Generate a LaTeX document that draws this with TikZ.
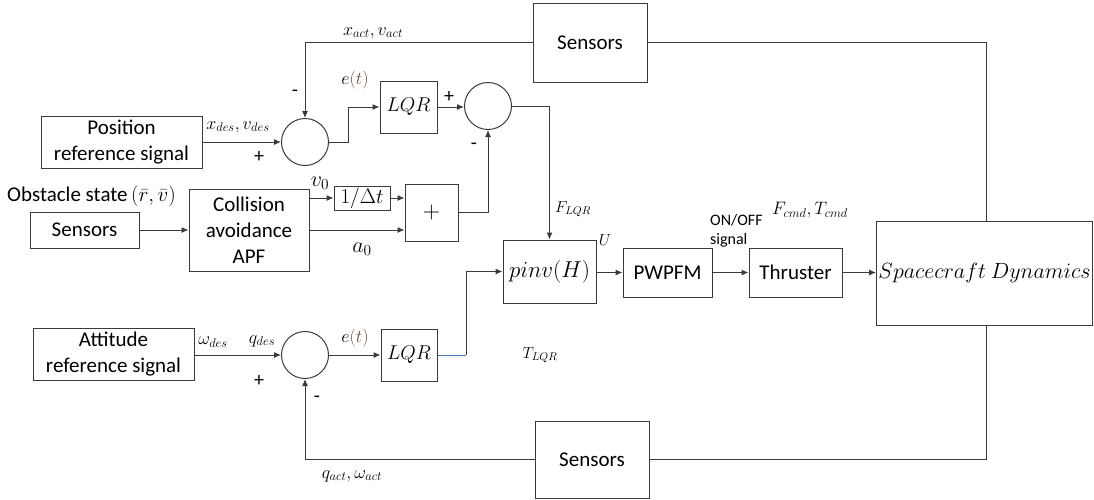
\RequirePackage{fix-cm}
\documentclass[tikz,border=0pt]{standalone}
\usepackage{fontspec}
\setmainfont{Carlito}
\usetikzlibrary{arrows.meta,calc}
\definecolor{linec}{HTML}{3A3A3A}
\definecolor{etbrown}{RGB}{125,70,60}
\definecolor{bluel}{HTML}{4472C4}
\tikzset{
  blk/.style={draw=linec, line width=1pt, inner sep=0pt, align=center, font=\fontsize{21}{26}\selectfont},
  sumc/.style={draw=linec, line width=1pt, circle, inner sep=0pt, minimum size=47pt},
  conn/.style={draw=linec, line width=1pt},
  arr/.style={conn, -{Latex[length=7pt,width=6pt]}},
  lbl/.style={inner sep=0pt, font=\fontsize{18}{20}\selectfont},
  sgn/.style={inner sep=0pt, font=\fontsize{20}{22}\selectfont},
}
\begin{document}
\begin{tikzpicture}[x=1pt,y=-1pt]
\useasboundingbox (0,0) rectangle (1094,499);
% blocks
\node[blk, minimum width=161pt, minimum height=52pt] (posref) at (121.5,142) {Position\\reference signal};
\node[sumc] (sum1) at (305,142) {};
\node[blk, minimum width=57pt, minimum height=52pt, font=\fontsize{20}{22}\selectfont] (lqr1) at (408.5,107) {$LQR$};
\node[sumc] (sum2) at (488,106) {};
\node[blk, minimum width=114pt, minimum height=79pt] (sensT) at (590,42.5) {Sensors};
\node[inner sep=0pt, anchor=west, font=\fontsize{21}{24}\selectfont] (obst) at (7,196) {Obstacle state\,$(\bar{r},\bar{v})$};
\node[blk, minimum width=109pt, minimum height=36pt] (sensL) at (84.5,230) {Sensors};
\node[blk, minimum width=120pt, minimum height=82pt] (ca) at (249,230) {Collision\\avoidance\\APF};
\node[blk, minimum width=56pt, minimum height=24pt, font=\fontsize{21}{22}\selectfont] (dt) at (362,198) {$1/\Delta t$};
\node[blk, minimum width=53pt, minimum height=57pt, font=\fontsize{24}{26}\selectfont] (plus) at (431.5,212.5) {$+$};
\node[blk, minimum width=93pt, minimum height=63pt, font=\fontsize{23}{25}\selectfont] (pinv) at (549.5,271.5) {$pinv(H)$};
\node[blk, minimum width=89pt, minimum height=49pt] (pwpfm) at (667.5,272.5) {PWPFM};
\node[blk, minimum width=93pt, minimum height=49pt] (thr) at (795.5,272.5) {Thruster};
\node[blk, minimum width=216pt, minimum height=104pt, font=\fontsize{22}{24}\selectfont] (sd) at (984.5,273) {$Spacecraft\ Dynamics$};
\node[blk, minimum width=161pt, minimum height=52pt] (attref) at (113.5,354) {Attitude\\reference signal};
\node[sumc] (sum3) at (305,355) {};
\node[blk, minimum width=56pt, minimum height=52pt, font=\fontsize{20}{22}\selectfont] (lqr2) at (409,355) {$LQR$};
\node[blk, minimum width=114pt, minimum height=77pt] (sensB) at (592,459.5) {Sensors};
\coordinate (fbx) at (986,0);
\coordinate (c1) at (466,355);
% connectors
\draw[arr] (posref.east) -- (sum1.west);
\draw[arr] (sensT.west) -| (sum1.north);
\draw[conn] (sensT.east) -| (sd.north -| fbx);
\draw[conn] (sd.south -| fbx) |- (sensB.east);
\draw[arr] (sensB.west) -| (sum3.south);
\draw[arr] (sum1.east) -- ++(19,0) |- (lqr1.west);
\draw[arr] (lqr1.east) -- (lqr1.east -| sum2.west);
\draw[arr] (plus.east) -| (sum2.south);
\draw[arr] (sum2.east) -| (pinv.north);
\draw[arr] (sensL.east) -- (ca.west);
\draw[arr] (ca.east |- dt.west) -- (dt.west);
\draw[arr] (dt.east) -- (dt.east -| plus.west);
\draw[arr] (ca.east) -- (ca.east -| plus.west);
\draw[arr] (attref.east |- sum3.west) -- (sum3.west);
\draw[arr] (sum3.east) -- (lqr2.west);
\draw[bluel, line width=1pt] (lqr2.east) -- (c1);
\draw[arr] (c1) |- (pinv.west);
\draw[arr] (pinv.east |- pwpfm.west) -- (pwpfm.west);
\draw[arr] (pwpfm.east) -- (thr.west);
\draw[arr] (thr.east) -- (thr.east -| sd.west);
% labels
\node[lbl] (l1) at (373,33) {$x_{act},v_{act}$};
\node[sgn] (l2) at (295,93) {-};
\node[lbl] (l3) at (238,127) {$x_{des},v_{des}$};
\node[sgn] (l4) at (259,157) {+};
\node[lbl] (l5) at (355,80) {$e{\color{etbrown}(t)}$};
\node[sgn] (l6) at (449,97) {+};
\node[sgn] (l7) at (474,146) {-};
\node[lbl, font=\fontsize{16}{18}\selectfont] (l8) at (573,209) {$F_{LQR}$};
\node[lbl, font=\fontsize{22}{24}\selectfont] (l9) at (320,183) {$v_0$};
\node[lbl, font=\fontsize{22}{24}\selectfont] (l10) at (362,249) {$a_0$};
\node[lbl, font=\fontsize{16}{18}\selectfont] (l11) at (605,240) {$U$};
\node[inner sep=0pt, anchor=west, align=left, font=\fontsize{16}{19}\selectfont] (l12) at (710,231) {ON/OFF\\signal};
\node[lbl] (l13) at (810,210) {$F_{cmd},T_{cmd}$};
\node[lbl] (l14) at (213,342) {$\omega_{des}$};
\node[lbl] (l15) at (262,341) {$q_{des}$};
\node[sgn] (l16) at (259,381) {+};
\node[sgn] (l17) at (317,399) {-};
\node[lbl] (l18) at (355,338) {$e{\color{etbrown}(t)}$};
\node[lbl, font=\fontsize{16}{18}\selectfont] (l19) at (540,355) {$T_{LQR}$};
\node[lbl] (l20) at (352,476) {$q_{act},\omega_{act}$};
\end{tikzpicture}
\end{document}
